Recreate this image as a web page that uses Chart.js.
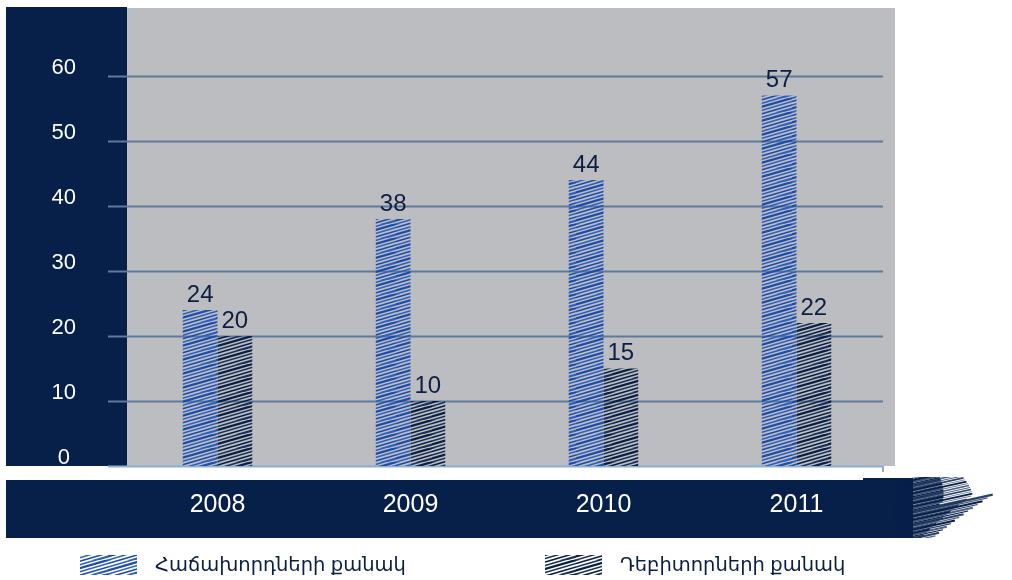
<!DOCTYPE html>
<html>
<head>
<meta charset="utf-8">
<script src="https://cdn.jsdelivr.net/npm/chart.js@4.4.0/dist/chart.umd.min.js"></script>
<style>
  html, body { margin: 0; padding: 0; background: #fff; }
</style>
</head>
<body>
<canvas id="chart" width="1012" height="580"></canvas>
<script>
const years = ['2008', '2009', '2010', '2011'];
const clients = [24, 38, 44, 57];
const debtors = [20, 10, 15, 22];
const seriesNames = ['Հաճախորդների քանակ', 'Դեբիտորների քանակ'];
const yTicks = [0, 10, 20, 30, 40, 50, 60];

const NAVY = '#06204a';
const GREY = '#bcbdc1';
const FONT = '"Liberation Sans", Arial, "DejaVu Sans", sans-serif';

// scribble-like hatch fill
function makeHatch(color, light) {
  const c = document.createElement('canvas');
  c.width = 36; c.height = 14;
  const g = c.getContext('2d');
  g.lineCap = 'round';
  for (let k = -4; k < 8; k++) {
    const y0 = k * 3.5;
    g.strokeStyle = (k % 2 === 0) ? color : light;
    g.lineWidth = (k % 3 === 0) ? 2.2 : 1.6;
    g.beginPath();
    g.moveTo(0, y0 + 10.5);
    g.lineTo(36, y0);
    g.stroke();
  }
  return g.createPattern(c, 'repeat');
}

const blueHatch = makeHatch('#1d4dab', '#2f5fbd');
const darkHatch = makeHatch('#0a1f44', '#1a3157');

const decor = {
  id: 'decor',
  beforeDraw(chart) {
    const ctx = chart.ctx;
    const y = chart.scales.y;
    const zero = y.getPixelForValue(0);
    ctx.save();
    // left navy panel and grey plot panel
    ctx.fillStyle = NAVY;
    ctx.fillRect(6, 7, 121, zero - 7);
    ctx.fillStyle = GREY;
    ctx.fillRect(127, 8, 768, zero - 8);
    // gridlines
    ctx.lineWidth = 2;
    yTicks.forEach(v => {
      const py = Math.round(y.getPixelForValue(v)) + 0.5;
      ctx.strokeStyle = v === 0 ? '#8eaed0' : '#5f7b9c';
      ctx.beginPath();
      ctx.moveTo(108, py);
      ctx.lineTo(883, py);
      ctx.stroke();
    });
    ctx.strokeStyle = '#8eaed0';
    ctx.beginPath();
    ctx.moveTo(883, zero);
    ctx.lineTo(883, zero + 6);
    ctx.stroke();
    // bottom band with brushed end
    ctx.fillStyle = NAVY;
    ctx.fillRect(6, 480, 858, 58);
    ctx.fillRect(863, 478, 50, 60);
    ctx.beginPath();
    ctx.rect(860, 477, 152, 61);
    ctx.clip();
    ctx.strokeStyle = NAVY;
    for (let i = 0; i < 60; i++) {
      const sy = 482 + i * 1.1;
      const mid = Math.abs(sy - 512) / 34;
      const len = (1 - mid * 0.5) * (45 + ((i * 29) % 60));
      ctx.lineWidth = 0.7 + (i % 4) * 0.5;
      ctx.globalAlpha = 0.7 + (i % 3) * 0.15;
      ctx.beginPath();
      ctx.moveTo(895, sy);
      ctx.lineTo(895 + len, sy - len * 0.22);
      ctx.stroke();
    }
    ctx.globalAlpha = 1;
    ctx.restore();
  },
  afterDraw(chart) {
    const ctx = chart.ctx;
    ctx.save();
    // value labels above bars
    ctx.font = '24px ' + FONT;
    ctx.fillStyle = '#0b1f42';
    ctx.textAlign = 'center';
    ctx.textBaseline = 'bottom';
    chart.data.datasets.forEach((ds, di) => {
      chart.getDatasetMeta(di).data.forEach((bar, i) => {
        ctx.fillText(ds.data[i], bar.x, bar.y - 3);
      });
    });
    // legend
    const items = [{ x: 80 }, { x: 545 }];
    ctx.font = '19.5px ' + FONT;
    ctx.textAlign = 'left';
    ctx.textBaseline = 'middle';
    chart.data.datasets.forEach((ds, di) => {
      const lx = items[di].x;
      ctx.fillStyle = ds.backgroundColor;
      ctx.fillRect(lx, 555, 57, 20);
      ctx.fillStyle = '#0b1f42';
      ctx.fillText(ds.label, lx + 75, 566);
    });
    ctx.restore();
  }
};

new Chart(document.getElementById('chart'), {
  type: 'bar',
  data: {
    labels: years,
    datasets: [
      { label: seriesNames[0], data: clients, backgroundColor: blueHatch },
      { label: seriesNames[1], data: debtors, backgroundColor: darkHatch }
    ]
  },
  options: {
    responsive: false,
    animation: false,
    layout: { padding: { left: 0, top: 76, right: 119, bottom: 54 } },
    datasets: { bar: { categoryPercentage: 0.36, barPercentage: 1.0 } },
    plugins: { legend: { display: false }, tooltip: { enabled: false } },
    scales: {
      x: {
        grid: { display: false },
        border: { display: false },
        ticks: { color: '#ffffff', font: { family: FONT, size: 25 }, padding: 16 },
        afterFit(scale) { scale.height = 60; }
      },
      y: {
        min: 0,
        max: 60,
        grid: { display: false, drawTicks: false },
        border: { display: false },
        ticks: {
          stepSize: 10,
          color: '#ffffff',
          font: { family: FONT, size: 22 },
          padding: 45,
          crossAlign: 'center',
          labelOffset: -8
        },
        afterFit(scale) { scale.width = 121; }
      }
    }
  },
  plugins: [decor]
});
</script>
</body>
</html>
